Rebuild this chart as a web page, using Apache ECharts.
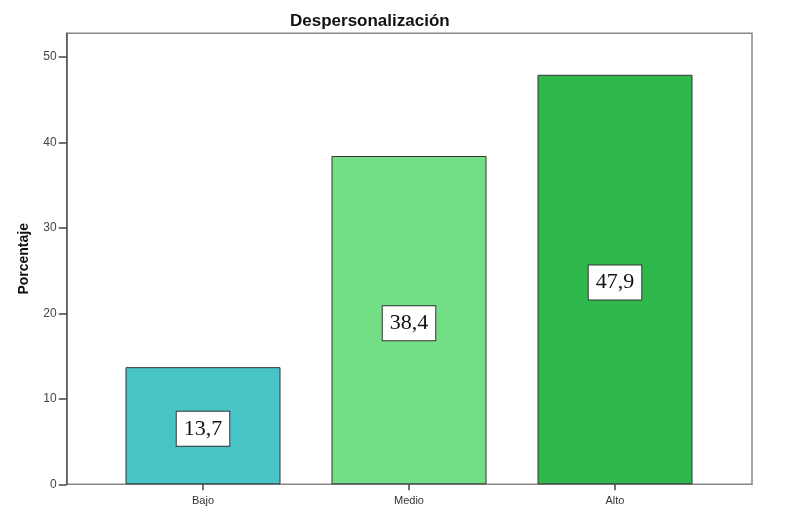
<!DOCTYPE html>
<html>
<head>
<meta charset="utf-8">
<script src="https://cdn.jsdelivr.net/npm/echarts@6/dist/echarts.min.js"></script>
<style>html,body{margin:0;padding:0;background:#fff}#c{width:796px;height:519px}</style>
</head>
<body>
<div id="c"></div>
<script>
const titleText = 'Despersonalización';
const yName = 'Porcentaje';
const categories = ['Bajo', 'Medio', 'Alto'];
const values = [13.7, 38.4, 47.9];
const barColors = ['#48C3C6', '#72DE86', '#2FB84B'];
const yTicks = [0, 10, 20, 30, 40, 50];
const yMax = 52.75;

const chart = echarts.init(document.getElementById('c'), null, {renderer: 'canvas'});
const font = 'Liberation Sans, Arial, sans-serif';
chart.setOption({
  animation: false,
  backgroundColor: '#fff',
  title: {
    text: titleText, left: 285, top: 8,
    textStyle: {fontFamily: font, fontWeight: 'bold', fontSize: 17, color: '#111'}
  },
  grid: [
    {left: 66.7, top: 33.3, right: 44, bottom: 34.7, show: true, borderColor: '#888', borderWidth: 1.5, backgroundColor: 'transparent'},
    {left: 100, top: 33.3, right: 78, bottom: 34.7}
  ],
  xAxis: [
    {gridIndex: 0, type: 'value', show: false, min: 0, max: 1},
    {gridIndex: 1, type: 'category', data: categories,
     axisLine: {show: false},
     axisTick: {show: true, alignWithLabel: true, length: 6, lineStyle: {color: '#444', width: 1.5}},
     axisLabel: {margin: 11, fontFamily: font, fontSize: 11, color: '#333'}}
  ],
  yAxis: [
    {gridIndex: 0, type: 'value', min: 0, max: yMax,
     name: yName, nameLocation: 'middle', nameGap: 36,
     nameTextStyle: {fontFamily: font, fontWeight: 'bold', fontSize: 14, color: '#111'},
     axisLine: {show: true, lineStyle: {color: '#555', width: 1.5}},
     axisTick: {show: true, length: 8, customValues: yTicks, lineStyle: {color: '#444', width: 1.5}},
     axisLabel: {customValues: yTicks, margin: 10, fontFamily: font, fontSize: 12, color: '#444'},
     splitLine: {show: false}},
    {gridIndex: 1, type: 'value', min: 0, max: yMax, show: false, splitLine: {show: false}}
  ],
  series: [{
    type: 'bar', xAxisIndex: 1, yAxisIndex: 1,
    barWidth: 155,
    data: values.map((v, i) => ({value: v, itemStyle: {color: barColors[i]}})),
    itemStyle: {borderColor: '#333', borderWidth: 1},
    label: {
      show: true, position: 'inside', offset: [0, 3],
      formatter: p => p.value.toFixed(1).replace('.', ','),
      fontFamily: 'Liberation Serif, Times New Roman, serif', fontSize: 22, lineHeight: 24,
      color: '#111', backgroundColor: '#fff', borderColor: '#333', borderWidth: 1,
      padding: [5, 7, 5, 7]
    }
  }]
});
</script>
</body>
</html>
